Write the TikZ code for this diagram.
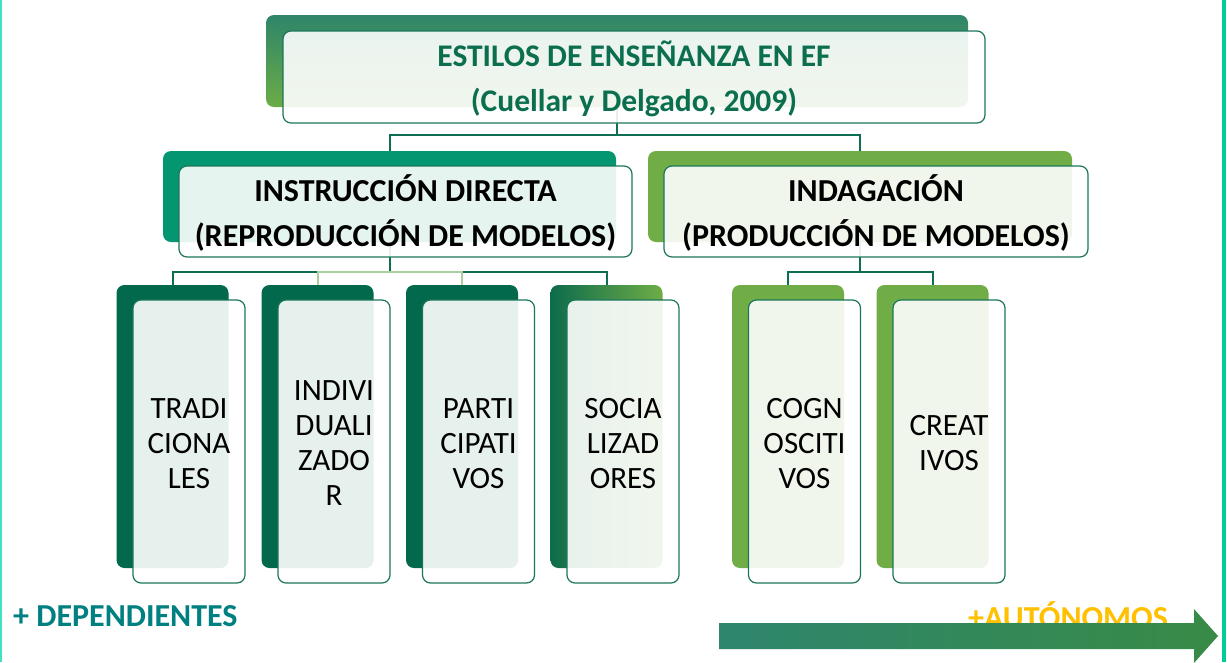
\documentclass[tikz,border=0pt]{standalone}
\usepackage{fontspec}
\setmainfont{Carlito}
\definecolor{tealtop}{RGB}{46,133,105}
\definecolor{greenbot}{RGB}{108,172,70}
\definecolor{titletxt}{RGB}{11,110,79}
\definecolor{lvtwoA}{RGB}{3,150,112}
\definecolor{lvtwoB}{RGB}{112,173,71}
\definecolor{darkback}{RGB}{2,105,77}
\definecolor{sociaL}{RGB}{13,108,76}
\definecolor{sociaR}{RGB}{110,172,70}
\definecolor{frameclr}{RGB}{28,118,90}
\definecolor{lineclr}{RGB}{14,110,84}
\definecolor{lightline}{RGB}{170,206,160}
\definecolor{depclr}{RGB}{0,128,128}
\definecolor{autclr}{RGB}{255,192,0}
\definecolor{arrowL}{RGB}{46,134,110}
\definecolor{arrowR}{RGB}{56,138,70}
\definecolor{edgeL}{RGB}{64,224,192}
\definecolor{edgeR}{RGB}{0,204,153}
\tikzset{
  backbox/.style={rectangle, rounded corners=8pt, inner sep=0pt, outer sep=0pt},
  frontbox/.style={rectangle, rounded corners=8pt, draw=frameclr, line width=1.2pt,
    fill=white, fill opacity=0.9, inner sep=0pt, outer sep=0pt},
  bigsz/.style={minimum width=702pt, minimum height=92pt},
  midsz/.style={minimum height=91pt},
  tallsz/.style={minimum width=112pt, minimum height=283pt},
  conn/.style={draw=lineclr, line width=2pt},
  lightconn/.style={draw=lightline, line width=2pt},
  label/.style={inner sep=0pt, align=center},
  titlefont/.style={label, font=\fontsize{31.5}{45}\selectfont\bfseries, text=titletxt},
  midfont/.style={label, font=\fontsize{32}{45}\selectfont\bfseries, text=black},
  smallfont/.style={label, font=\fontsize{31}{35}\selectfont, text=black},
}
\begin{document}
\begin{tikzpicture}[x=1pt,y=-1pt]
\useasboundingbox (0,0) rectangle (1227,662);
\fill[white] (0,0) rectangle (1227,662);

% back boxes
\node[backbox, bigsz, top color=tealtop, bottom color=greenbot] (tback) at (617,61) {};
\node[backbox, midsz, minimum width=453pt, fill=lvtwoA] (aback) at (389.5,196.5) {};
\node[backbox, midsz, minimum width=424pt, fill=lvtwoB] (bback) at (860,196.5) {};
\node[backbox, tallsz, fill=darkback] (k1back) at (172.5,426.5) {};
\node[backbox, tallsz, fill=darkback] (k2back) at (317.5,426.5) {};
\node[backbox, tallsz, fill=darkback] (k3back) at (462,426.5) {};
\node[backbox, tallsz, left color=sociaL, right color=sociaR] (k4back) at (606.5,426.5) {};
\node[backbox, tallsz, fill=lvtwoB] (c1back) at (788,426.5) {};
\node[backbox, tallsz, fill=lvtwoB] (c2back) at (932.5,426.5) {};

% connectors
\draw[conn] (tback.south) -- ++(0,28) coordinate (tj);
\draw[conn] (aback.north) |- (tj) -| (bback.north);
\draw[conn] (aback.south) -- ++(0,30) coordinate (aj);
\draw[conn] (k1back.north) |- (aj) -| (k4back.north);
\draw[lightconn] (k2back.north) |- (aj -| k3back.north) -- (k3back.north);
\draw[conn] (bback.south) -- ++(0,30) coordinate (bj);
\draw[conn] (c1back.north) |- (bj) -| (c2back.north);

% front boxes
\node[frontbox, bigsz] (tfront) at (634,77) {};
\node[frontbox, midsz, minimum width=453pt] (afront) at (405.5,211.5) {};
\node[frontbox, midsz, minimum width=424pt] (bfront) at (876,211.5) {};
\node[frontbox, tallsz] (k1front) at (189,441.5) {};
\node[frontbox, tallsz] (k2front) at (334,441.5) {};
\node[frontbox, tallsz] (k3front) at (478.5,441.5) {};
\node[frontbox, tallsz] (k4front) at (623,441.5) {};
\node[frontbox, tallsz] (c1front) at (804.5,441.5) {};
\node[frontbox, tallsz] (c2front) at (949,441.5) {};

% texts
\node[titlefont] (ttext) at ([yshift=-2pt]tfront.center) {ESTILOS DE ENSEÑANZA EN EF\\(Cuellar y Delgado, 2009)};
\node[midfont] (atext) at ([yshift=-1pt]afront.center) {INSTRUCCIÓN DIRECTA\\(REPRODUCCIÓN DE MODELOS)};
\node[midfont] (btext) at ([yshift=-1pt]bfront.center) {INDAGACIÓN\\(PRODUCCIÓN DE MODELOS)};
\node[smallfont] (k1text) at ([yshift=-2pt]k1front.center) {TRADI\\CIONA\\LES};
\node[smallfont] (k2text) at ([yshift=-2pt]k2front.center) {INDIVI\\DUALI\\ZADO\\R};
\node[smallfont] (k3text) at ([yshift=-2pt]k3front.center) {PARTI\\CIPATI\\VOS};
\node[smallfont] (k4text) at ([yshift=-2pt]k4front.center) {SOCIA\\LIZAD\\ORES};
\node[smallfont] (c1text) at ([yshift=-2pt]c1front.center) {COGN\\OSCITI\\VOS};
\node[smallfont] (c2text) at ([yshift=-2pt]c2front.center) {CREAT\\IVOS};

% bottom labels
\node[anchor=base west, inner sep=0pt, text=depclr, font=\fontsize{32}{38}\selectfont\bfseries] (dep) at (13,626) {+ DEPENDIENTES};
\node[anchor=base west, inner sep=0pt, text=autclr, font=\fontsize{32}{38}\selectfont\bfseries] (aut) at (968,628) {+AUTÓNOMOS};

% arrow
\shade[left color=arrowL, right color=arrowR] (719,623) -- (1194,623) -- (1194,609) -- (1218,636) -- (1194,663) -- (1194,649) -- (719,649) -- cycle;

% edge lines
\draw[edgeL, line width=2pt] (1,0) -- (1,662);
\draw[edgeR, line width=4pt] (1223.5,0) -- (1223.5,662);
\end{tikzpicture}
\end{document}
